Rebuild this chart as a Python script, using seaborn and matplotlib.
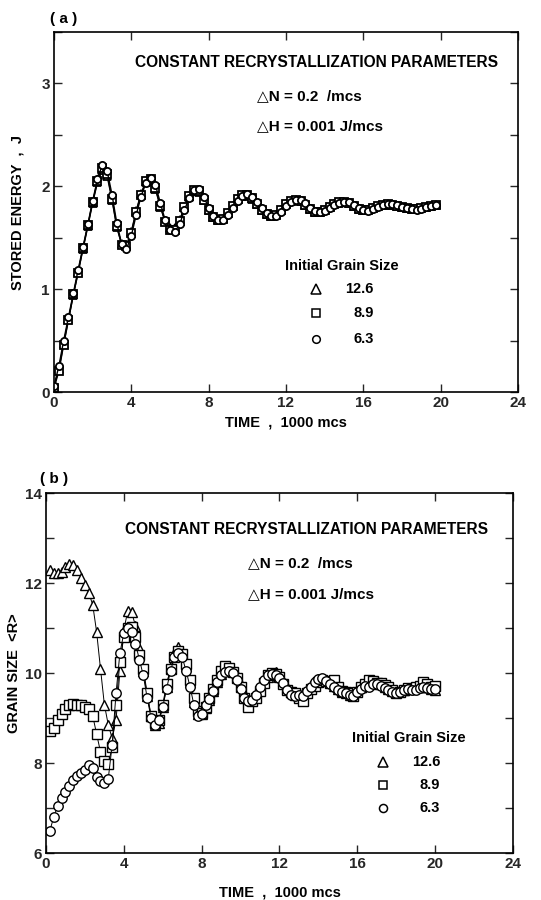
import numpy as np
import pandas as pd
import matplotlib
matplotlib.use("Agg")
import matplotlib.pyplot as plt
from matplotlib.ticker import MultipleLocator
import seaborn as sns

sns.set_theme(style="ticks")
plt.rcParams["font.family"] = ["Liberation Sans", "DejaVu Sans"]
plt.rcParams["font.weight"] = "bold"

# ---- panel (a): stored energy, sampled every 250 mcs ----
time_a = np.arange(0, 20.0, 0.25)  # 1000 mcs
energy_126 = [0.05, 0.22, 0.47, 0.71, 0.94, 1.17, 1.39, 1.61, 1.84, 2.04, 2.16, 2.10, 1.87, 1.60, 1.44, 1.43,
              1.56, 1.76, 1.93, 2.04, 2.06, 1.97, 1.80, 1.66, 1.59, 1.59, 1.67, 1.80, 1.90, 1.95, 1.94, 1.87,
              1.77, 1.70, 1.67, 1.68, 1.74, 1.81, 1.88, 1.91, 1.91, 1.88, 1.83, 1.77, 1.73, 1.71, 1.72, 1.77,
              1.83, 1.86, 1.87, 1.86, 1.82, 1.78, 1.75, 1.75, 1.77, 1.80, 1.83, 1.84, 1.85, 1.84, 1.81, 1.78,
              1.77, 1.77, 1.79, 1.81, 1.82, 1.83, 1.82, 1.81, 1.80, 1.79, 1.78, 1.78, 1.79, 1.80, 1.81, 1.82]
energy_89 = [0.04, 0.20, 0.46, 0.70, 0.95, 1.16, 1.40, 1.62, 1.85, 2.05, 2.18, 2.12, 1.88, 1.61, 1.43, 1.42,
             1.55, 1.75, 1.92, 2.05, 2.07, 1.98, 1.81, 1.65, 1.58, 1.58, 1.66, 1.80, 1.91, 1.96, 1.95, 1.87,
             1.77, 1.70, 1.67, 1.68, 1.74, 1.81, 1.88, 1.92, 1.92, 1.89, 1.83, 1.77, 1.73, 1.71, 1.72, 1.77,
             1.83, 1.86, 1.87, 1.86, 1.82, 1.78, 1.75, 1.75, 1.77, 1.80, 1.83, 1.85, 1.85, 1.84, 1.81, 1.78,
             1.77, 1.77, 1.79, 1.81, 1.82, 1.83, 1.82, 1.81, 1.80, 1.79, 1.78, 1.78, 1.79, 1.80, 1.81, 1.82]
energy_63 = [0.06, 0.25, 0.50, 0.73, 0.96, 1.19, 1.41, 1.63, 1.86, 2.07, 2.21, 2.15, 1.92, 1.64, 1.44, 1.39,
             1.52, 1.72, 1.90, 2.03, 2.08, 2.01, 1.84, 1.67, 1.58, 1.56, 1.63, 1.77, 1.89, 1.96, 1.97, 1.90,
             1.79, 1.71, 1.67, 1.67, 1.72, 1.79, 1.86, 1.91, 1.93, 1.90, 1.85, 1.79, 1.74, 1.71, 1.71, 1.75,
             1.81, 1.85, 1.87, 1.87, 1.84, 1.79, 1.76, 1.75, 1.76, 1.79, 1.82, 1.84, 1.85, 1.85, 1.82, 1.79,
             1.77, 1.76, 1.78, 1.80, 1.82, 1.83, 1.83, 1.82, 1.80, 1.79, 1.78, 1.77, 1.78, 1.80, 1.81, 1.82]

# ---- panel (b): mean grain size, sampled every 200 mcs ----
time_b = np.round(np.arange(0.2, 20.01, 0.2), 1)
grain_126 = [12.30, 12.22, 12.22, 12.25, 12.35, 12.42, 12.40, 12.30, 12.12, 11.95,
             11.78, 11.52, 10.92, 10.10, 9.30, 8.85, 8.55, 8.95, 10.05, 10.95,
             11.38, 11.35, 11.05, 10.55, 10.05, 9.50, 9.05, 8.85, 8.90, 9.25,
             9.70, 10.15, 10.45, 10.58, 10.40, 10.15, 9.80, 9.35, 9.08, 9.10,
             9.22, 9.40, 9.60, 9.80, 9.98, 10.08, 10.10, 10.05, 9.95, 9.75,
             9.55, 9.42, 9.40, 9.48, 9.62, 9.80, 9.92, 9.98, 10.02, 9.95,
             9.82, 9.68, 9.58, 9.52, 9.50, 9.55, 9.62, 9.70, 9.78, 9.82,
             9.85, 9.84, 9.80, 9.72, 9.65, 9.58, 9.55, 9.52, 9.55, 9.62,
             9.70, 9.76, 9.80, 9.78, 9.76, 9.75, 9.70, 9.65, 9.60, 9.58,
             9.60, 9.62, 9.64, 9.66, 9.68, 9.70, 9.70, 9.68, 9.65, 9.62]
grain_89 = [8.72, 8.78, 8.95, 9.10, 9.20, 9.30, 9.32, 9.30, 9.28, 9.25,
            9.20, 9.05, 8.65, 8.25, 8.05, 7.98, 8.35, 9.30, 10.25, 10.80,
            11.00, 11.02, 10.80, 10.40, 10.10, 9.55, 9.05, 8.90, 8.95, 9.30,
            9.75, 10.10, 10.35, 10.48, 10.42, 10.20, 9.85, 9.45, 9.15, 9.12,
            9.25, 9.45, 9.65, 9.85, 10.05, 10.15, 10.12, 10.02, 9.88, 9.70,
            9.45, 9.25, 9.38, 9.45, 9.60, 9.78, 9.95, 10.00, 9.98, 9.92,
            9.75, 9.62, 9.58, 9.55, 9.45, 9.38, 9.55, 9.65, 9.72, 9.80,
            9.85, 9.82, 9.78, 9.85, 9.70, 9.60, 9.58, 9.55, 9.50, 9.58,
            9.68, 9.75, 9.85, 9.82, 9.78, 9.78, 9.74, 9.68, 9.62, 9.56,
            9.58, 9.62, 9.66, 9.65, 9.70, 9.72, 9.80, 9.75, 9.70, 9.72]
grain_63 = [6.50, 6.80, 7.05, 7.22, 7.35, 7.50, 7.62, 7.72, 7.78, 7.85,
            7.95, 7.88, 7.70, 7.60, 7.55, 7.65, 8.40, 9.55, 10.45, 10.88,
            11.00, 10.92, 10.65, 10.30, 9.95, 9.45, 9.00, 8.85, 8.95, 9.25,
            9.65, 10.05, 10.35, 10.45, 10.35, 10.05, 9.70, 9.30, 9.05, 9.10,
            9.28, 9.42, 9.60, 9.80, 9.95, 10.02, 10.05, 10.00, 9.85, 9.65,
            9.45, 9.38, 9.40, 9.52, 9.68, 9.85, 9.95, 9.98, 9.95, 9.90,
            9.78, 9.62, 9.52, 9.48, 9.52, 9.48, 9.60, 9.70, 9.80, 9.86,
            9.90, 9.82, 9.75, 9.68, 9.62, 9.58, 9.56, 9.52, 9.50, 9.58,
            9.65, 9.72, 9.70, 9.75, 9.76, 9.72, 9.66, 9.62, 9.58, 9.56,
            9.58, 9.62, 9.64, 9.62, 9.62, 9.66, 9.68, 9.66, 9.64, 9.65]

sizes = ["12.6", "8.9", "6.3"]
markers = ["^", "s", "o"]

df_a = pd.concat([
    pd.DataFrame({"time": time_a, "value": v, "size": s})
    for s, v in zip(sizes, [energy_126, energy_89, energy_63])
])
df_b = pd.concat([
    pd.DataFrame({"time": time_b, "value": v, "size": s})
    for s, v in zip(sizes, [grain_126, grain_89, grain_63])
])

fig = plt.figure(figsize=(5.41, 9.0), dpi=100)
ax_a = fig.add_axes([0.0998, 0.5644, 0.8577, 0.4000])
ax_b = fig.add_axes([0.0850, 0.0522, 0.8632, 0.4000])

TXT = dict(fontweight="bold", color="black")


def draw_panel(ax, df, msize, mew, lw, xpad):
    sns.lineplot(data=df, x="time", y="value", hue="size", style="size",
                 hue_order=sizes, style_order=sizes, markers=markers, dashes=False,
                 palette=["black"] * 3, linewidth=lw, markersize=msize,
                 markerfacecolor="white", markeredgecolor="black", markeredgewidth=mew,
                 legend=False, ax=ax, sort=False)
    ax.set_xlim(0, 24)
    ax.xaxis.set_major_locator(MultipleLocator(4))
    ax.tick_params(which="both", direction="in", top=True, right=True,
                   length=6, width=1.0, labelsize=11, pad=3)
    for lbl in ax.get_xticklabels() + ax.get_yticklabels():
        lbl.set_fontweight("bold")
    for sp in ax.spines.values():
        sp.set_linewidth(1.2)
        sp.set_color("black")
    ax.set_xlabel("TIME  ,  1000 mcs", fontsize=10.5, labelpad=xpad, **TXT)


def legend_block(ax, tx, ty, mx, my, lx, ms):
    ax.text(tx, ty, "Initial Grain Size", ha="center", va="center", fontsize=10.5, **TXT)
    for m, s, y in zip(markers, sizes, my):
        size = ms * 1.2 if m == "^" else ms
        ax.plot([mx], [y], marker=m, markersize=size, markerfacecolor="white",
                markeredgecolor="black", markeredgewidth=1.1, linestyle="none")
        ax.text(lx, y, s, ha="right", va="center", fontsize=10.5, **TXT)


def header_block(ax, cx, cy, x0, y1, y2):
    ax.text(cx, cy, "CONSTANT RECRYSTALLIZATION PARAMETERS", ha="center", va="center",
            fontsize=11.2, **TXT)
    ax.text(x0, y1, "\u25b3N = 0.2  /mcs", ha="left", va="center", fontsize=11, **TXT)
    ax.text(x0, y2, "\u25b3H = 0.001 J/mcs", ha="left", va="center", fontsize=11, **TXT)


# panel (a)
draw_panel(ax_a, df_a, 5.2, 1.3, 1.0, 4)
ax_a.set_ylim(0, 3.5)
ax_a.yaxis.set_major_locator(MultipleLocator(1))
ax_a.yaxis.set_minor_locator(MultipleLocator(0.5))
ax_a.set_ylabel("STORED ENERGY  ,  J", fontsize=10.5, labelpad=12, **TXT)
header_block(ax_a, 13.6, 3.2, 10.5, 2.88, 2.58)
legend_block(ax_a, 14.9, 1.23, 13.55, [1.0, 0.77, 0.52], 16.55, 5.5)
fig.text(0.092, 0.974, "( a )", fontsize=11, **TXT)

# panel (b)
draw_panel(ax_b, df_b, 6.8, 1.0, 0.7, 10)
ax_b.set_ylim(6, 14)
ax_b.yaxis.set_major_locator(MultipleLocator(2))
ax_b.yaxis.set_minor_locator(MultipleLocator(1))
ax_b.set_ylabel("GRAIN SIZE  <R>", fontsize=10.5, labelpad=3, **TXT)
header_block(ax_b, 13.4, 13.18, 10.4, 12.44, 11.76)
legend_block(ax_b, 18.65, 8.56, 17.3, [8.02, 7.51, 7.0], 20.25, 5.8)
fig.text(0.074, 0.463, "( b )", fontsize=11, **TXT)

fig.savefig("out.png", dpi=100, facecolor="white")
